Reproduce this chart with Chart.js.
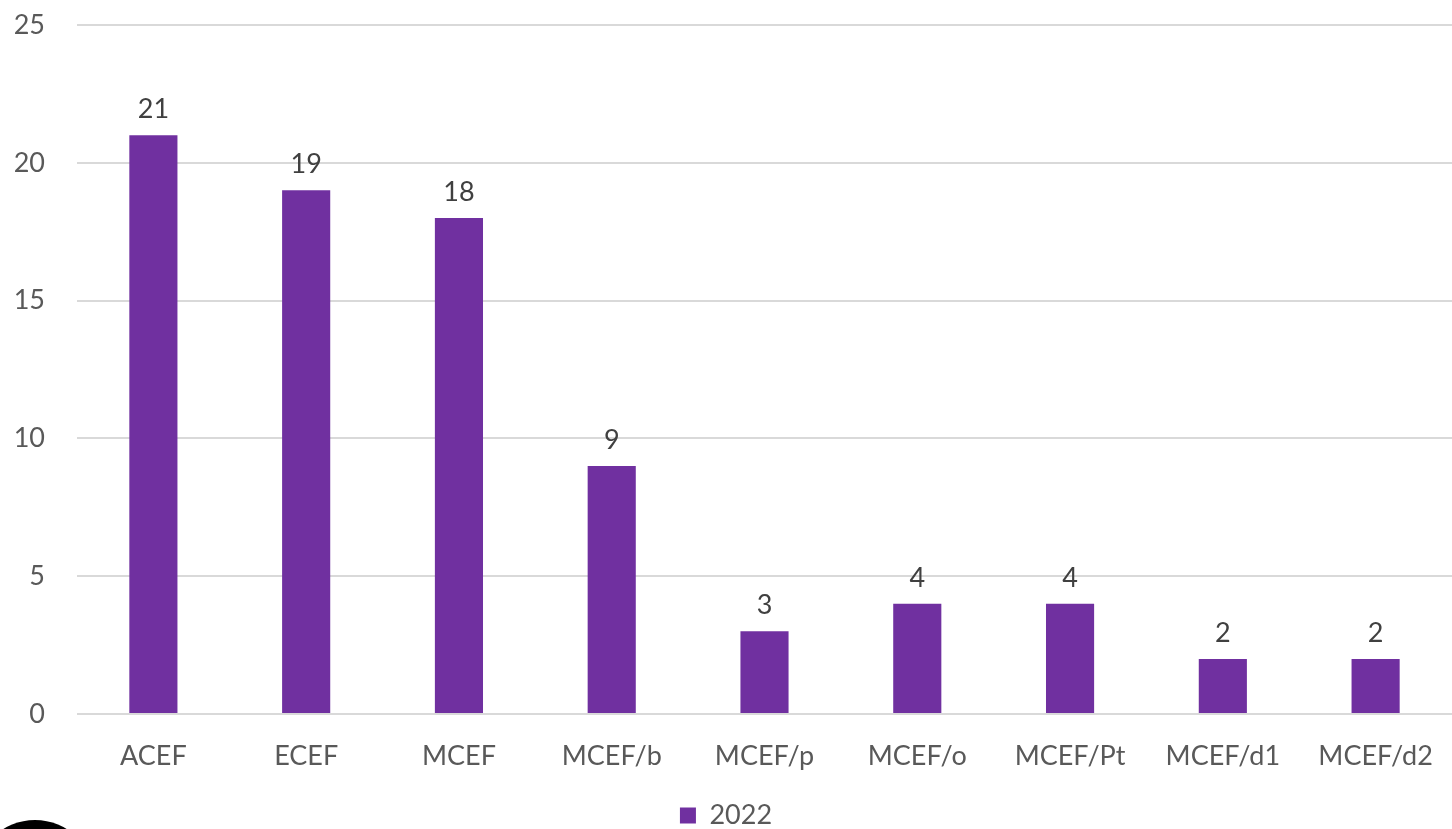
<!DOCTYPE html>
<html>
<head>
<meta charset="utf-8">
<script src="https://cdn.jsdelivr.net/npm/chart.js@4"></script>
<style>
  html, body { margin: 0; padding: 0; background: #fff; }
  #wrap { width: 1452px; height: 829px; position: relative; }
</style>
</head>
<body>
<div id="wrap"><canvas id="chart"></canvas></div>
<script>
// categorías y valores
const categories = ['ACEF', 'ECEF', 'MCEF', 'MCEF/b', 'MCEF/p', 'MCEF/o', 'MCEF/Pt', 'MCEF/d1', 'MCEF/d2'];
const values2022 = [21, 19, 18, 9, 3, 4, 4, 2, 2];
const seriesName = '2022';

const purple = '#7030A0';
const fontFamily = "Lato, 'Open Sans', sans-serif";
const fontSize = 27;

// etiquetas encima de cada barra
const valueLabels = {
  id: 'valueLabels',
  afterDatasetsDraw(chart) {
    const ctx = chart.ctx;
    ctx.save();
    ctx.font = fontSize + 'px ' + fontFamily;
    ctx.fillStyle = '#404040';
    ctx.textAlign = 'center';
    ctx.textBaseline = 'alphabetic';
    chart.getDatasetMeta(0).data.forEach((bar, i) => {
      ctx.fillText(chart.data.datasets[0].data[i], bar.x, bar.y - 17);
    });
    ctx.restore();
  }
};

// círculo negro de la esquina inferior
const cornerBlob = {
  id: 'cornerBlob',
  afterDraw(chart) {
    const ctx = chart.ctx;
    ctx.save();
    ctx.fillStyle = '#000';
    ctx.beginPath();
    ctx.arc(35, 880, 60, 0, Math.PI * 2);
    ctx.fill();
    ctx.restore();
  }
};

new Chart(document.getElementById('chart'), {
  type: 'bar',
  data: {
    labels: categories,
    datasets: [{
      label: seriesName,
      data: values2022,
      backgroundColor: purple,
      categoryPercentage: 1,
      barPercentage: 0.315
    }]
  },
  options: {
    responsive: true,
    maintainAspectRatio: false,
    animation: false,
    layout: { padding: { top: 25, left: 0, right: 0, bottom: -10 } },
    plugins: {
      legend: {
        position: 'bottom',
        labels: {
          color: '#595959',
          font: { family: fontFamily, size: fontSize },
          boxWidth: 16,
          boxHeight: 16,
          padding: 1
        }
      },
      tooltip: { enabled: false }
    },
    scales: {
      x: {
        grid: { display: false },
        border: { display: false },
        afterFit(scale) {
          scale.height = 87;
          scale.paddingLeft = 0;
          scale.paddingRight = 0;
        },
        ticks: {
          color: '#595959',
          font: { family: fontFamily, size: fontSize },
          padding: 18
        }
      },
      y: {
        min: 0,
        max: 25,
        afterFit(scale) {
          scale.width = 77;
          scale.paddingTop = 0;
          scale.paddingBottom = 0;
        },
        ticks: {
          stepSize: 5,
          color: '#595959',
          font: { family: fontFamily, size: fontSize },
          padding: 32
        },
        grid: { color: '#d9d9d9', lineWidth: 2, drawTicks: false },
        border: { display: false }
      }
    }
  },
  plugins: [valueLabels, cornerBlob]
});
</script>
</body>
</html>
